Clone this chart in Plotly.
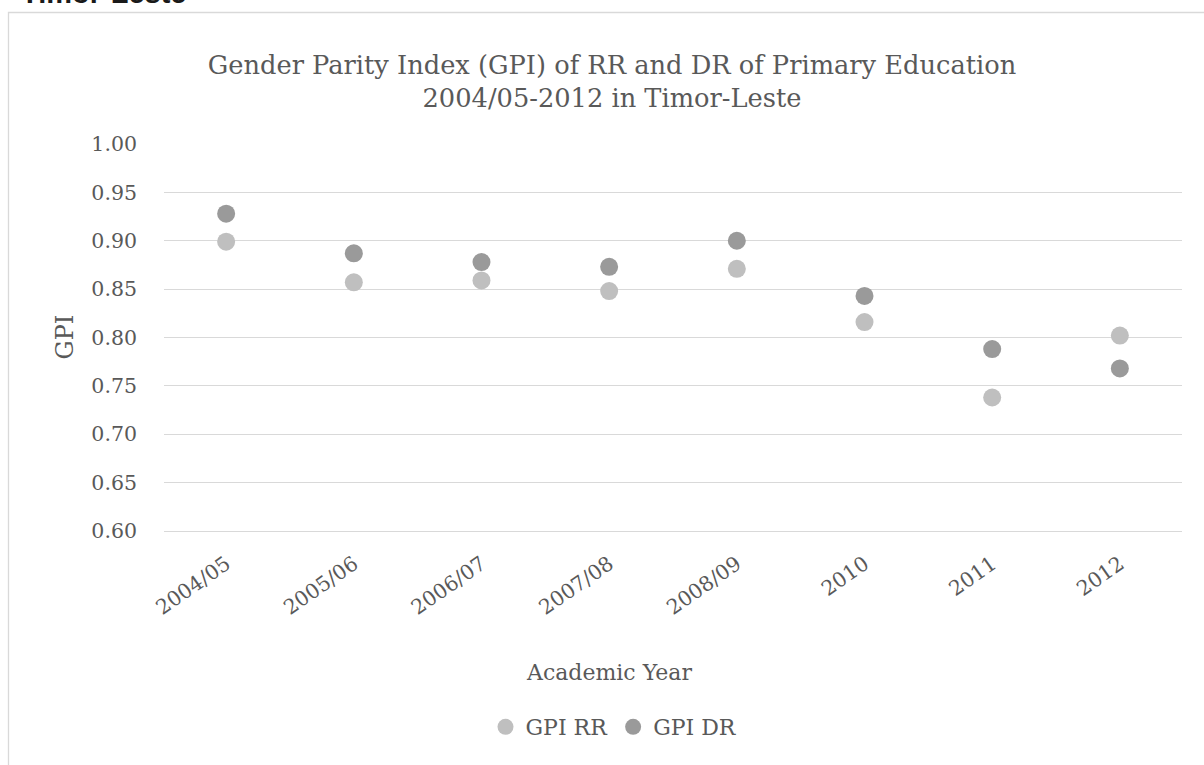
import plotly.graph_objects as go

years = ["2004/05", "2005/06", "2006/07", "2007/08", "2008/09", "2010", "2011", "2012"]
gpi_rr = [0.899, 0.857, 0.859, 0.848, 0.871, 0.816, 0.738, 0.802]
gpi_dr = [0.928, 0.887, 0.878, 0.873, 0.900, 0.843, 0.788, 0.768]
y_ticks = [0.60, 0.65, 0.70, 0.75, 0.80, 0.85, 0.90, 0.95, 1.00]

FONT = "DejaVu Serif"
TXT = "#595959"
GRID = "#d9d9d9"

fig = go.Figure()
fig.add_trace(go.Scatter(x=years, y=gpi_rr, mode="markers", name="GPI RR",
                         marker=dict(size=18, color="#bfbfbf")))
fig.add_trace(go.Scatter(x=years, y=gpi_dr, mode="markers", name="GPI DR",
                         marker=dict(size=18, color="#9a9a9a")))

L, R, T, B = 164, 22, 144, 234
W, H = 1204, 765
PW, PH = W - L - R, H - T - B

def px(x):
    return (x - L) / PW

def py(y):
    return (H - B - y) / PH

fig.update_layout(
    width=W, height=H,
    margin=dict(l=L, r=R, t=T, b=B),
    paper_bgcolor="white", plot_bgcolor="white",
    font=dict(family=FONT, color=TXT, size=20),
    title=dict(text="Gender Parity Index (GPI) of RR and DR of Primary Education<br>2004/05-2012 in Timor-Leste",
               x=612 / W, xref="container", xanchor="center",
               y=1 - 74 / H, yref="container", yanchor="middle",
               font=dict(family=FONT, size=25.7, color=TXT)),
    showlegend=True,
    legend=dict(orientation="h", x=px(614), xanchor="center", y=py(727), yanchor="middle",
                font=dict(family=FONT, size=22, color=TXT), itemsizing="trace"),
    xaxis=dict(type="category", showgrid=False, showline=True, linecolor=GRID, linewidth=1,
               tickangle=-35, ticks="", tickfont=dict(size=20.5, color=TXT),
               ticklabelstandoff=12),
    yaxis=dict(range=[0.60, 1.00], tickvals=y_ticks, tickformat=".2f",
               showgrid=True, gridcolor=GRID, gridwidth=1.3, zeroline=False,
               ticks="", tickfont=dict(size=20.5, color=TXT), ticklabelstandoff=26),
    annotations=[
        dict(text="GPI", xref="paper", yref="paper", x=px(64), y=0.5, textangle=-90,
             showarrow=False, xanchor="center", yanchor="middle",
             font=dict(family=FONT, size=24, color=TXT)),
        dict(text="Academic Year", xref="paper", yref="paper", x=px(609), y=py(672),
             showarrow=False, xanchor="center", yanchor="middle",
             font=dict(family=FONT, size=22, color=TXT)),
        dict(text="<b>Timor-Leste</b>", xref="paper", yref="paper", x=px(19), y=py(11.5),
             showarrow=False, xanchor="left", yanchor="bottom",
             font=dict(family="Liberation Sans", size=29, color="#1a1a1a")),
    ],
    shapes=[
        dict(type="rect", xref="paper", yref="paper", x0=px(8.5), x1=px(1260),
             y0=py(900), y1=py(12.5), line=dict(color=GRID, width=1.3), fillcolor="rgba(0,0,0,0)",
             layer="below"),
    ],
)

fig.write_html("out.html")
